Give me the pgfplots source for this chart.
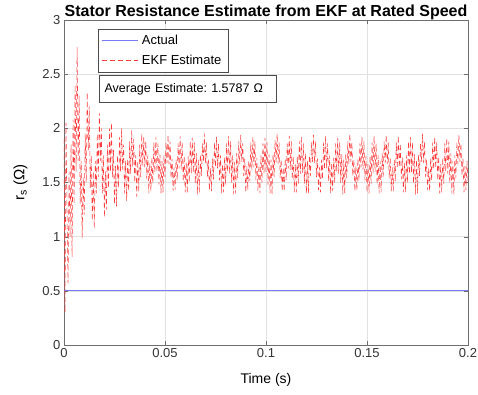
\documentclass[border=0pt]{standalone}
\usepackage{pgfplots}
\pgfplotsset{compat=1.18}
\usepackage{fontspec}
\setmainfont{Liberation Sans}
\definecolor{gridgray}{RGB}{225,225,225}
\definecolor{axgray}{RGB}{110,110,110}
\definecolor{actblue}{RGB}{120,120,250}
\definecolor{ekfred}{RGB}{255,60,60}
\pgfplotsset{ekf/.style={color=ekfred, line width=0.55pt, dash pattern=on 5pt off 3pt}}
\begin{document}
\frenchspacing
\begin{tikzpicture}
\useasboundingbox (-64pt,-50pt) rectangle (414pt,345pt);
\begin{axis}[
  scale only axis, width=404pt, height=325pt,
  xmin=0, xmax=0.2, ymin=0, ymax=3,
  xtick={0,0.05,0.1,0.15,0.2}, ytick={0,0.5,1,1.5,2,2.5,3},
  scaled x ticks=false,
  xticklabel style={/pgf/number format/fixed, /pgf/number format/precision=2},
  /pgf/number format/assume math mode=true,
  tick label style={font=\fontsize{13}{15}\selectfont, color=black!80},
  xlabel style={font=\fontsize{14}{16}\selectfont, yshift=-9pt},
  ylabel style={font=\fontsize{15}{17}\selectfont, yshift=8pt},
  title style={font=\bfseries\fontsize{16}{18}\selectfont, at={(0.5,1)}, anchor=base, yshift=-3pt},
  title={Stator Resistance Estimate from EKF at Rated Speed},
  xlabel={Time (s)}, ylabel={r\textsubscript{s} (Ω)},
  grid=major, major grid style={gridgray, line width=0.5pt},
  axis line style={axgray}, tick style={axgray},
  tick align=inside, major tick length=4pt,
  legend style={at={(axis description cs:0.084,0.973)}, anchor=north west,
    font=\fontsize{13}{15}\selectfont, draw=black!70, fill=white,
    inner xsep=3pt, inner ysep=4pt, row sep=5pt,
    nodes={inner xsep=4pt}},
  legend cell align=left,
  legend image code/.code={\draw[#1] (0pt,0pt) -- (36pt,0pt);},
]
\addplot[color=actblue, line width=0.8pt] coordinates {(0,0.5) (0.2,0.5)};
\addlegendentry{Actual}
\addplot[ekf] table {
0.0000 1.90
0.0005 0.30
0.0010 2.05
0.0015 1.20
0.0020 0.57
0.0025 1.60
0.0030 1.00
0.0035 1.85
0.0040 0.81
0.0045 2.08
0.0050 1.30
0.0055 2.40
0.0060 1.60
0.0065 2.75
0.0070 1.70
0.0075 2.30
0.0080 1.30
0.0085 1.70
0.0090 0.99
0.0095 1.55
0.0100 1.20
0.0105 1.95
0.0110 1.50
0.0115 2.33
0.0120 1.80
0.0125 2.20
0.0130 1.45
0.0135 1.75
0.0140 1.15
0.0145 1.60
0.0150 1.08
0.0155 1.70
0.0160 1.40
0.0165 1.95
0.0170 1.55
0.0175 2.14
0.0180 1.70
0.0185 2.00
0.0190 1.40
0.0195 1.75
0.0200 1.18
0.0205 1.60
0.0210 1.25
0.0215 1.85
0.0220 1.45
0.0225 2.00
0.0230 1.60
0.0235 2.05
0.0240 1.55
0.0245 1.80
0.0250 1.30
0.0255 1.65
0.0260 1.28
0.0265 1.75
0.0270 1.45
0.0275 1.92
0.0280 1.60
0.0285 2.00
0.0290 1.62
0.0295 1.85
0.0300 1.40
0.0305 1.70
0.0310 1.33
0.0315 1.72
0.0320 1.42
0.0325 1.88
0.0330 1.58
0.0335 1.98
0.0340 1.65
0.0345 1.90
0.0350 1.50
0.0355 1.75
0.0360 1.37
0.0365 1.70
0.0370 1.42
0.0375 1.85
0.0380 1.55
0.0385 1.95
0.0390 1.65
0.0395 1.92
0.0400 1.64
0.0405 1.88
0.0410 1.53
0.0415 1.75
0.0420 1.40
0.0425 1.68
0.0430 1.42
0.0435 1.73
0.0440 1.49
0.0445 1.87
0.0450 1.59
0.0455 1.92
0.0460 1.60
0.0465 1.86
0.0470 1.48
0.0475 1.76
0.0480 1.40
0.0485 1.70
0.0490 1.41
0.0495 1.75
0.0500 1.55
0.0505 1.87
0.0510 1.68
0.0515 1.94
0.0520 1.67
0.0525 1.88
0.0530 1.54
0.0535 1.72
0.0540 1.42
0.0545 1.64
0.0550 1.43
0.0555 1.71
0.0560 1.52
0.0565 1.86
0.0570 1.63
0.0575 1.93
0.0580 1.62
0.0585 1.87
0.0590 1.51
0.0595 1.74
0.0600 1.41
0.0605 1.68
0.0610 1.40
0.0615 1.74
0.0620 1.50
0.0625 1.88
0.0630 1.58
0.0635 1.91
0.0640 1.59
0.0645 1.87
0.0650 1.49
0.0655 1.77
0.0660 1.39
0.0665 1.71
0.0670 1.41
0.0675 1.76
0.0680 1.56
0.0685 1.86
0.0690 1.69
0.0695 1.95
0.0700 1.68
0.0705 1.87
0.0710 1.55
0.0715 1.71
0.0720 1.43
0.0725 1.63
0.0730 1.42
0.0735 1.72
0.0740 1.53
0.0745 1.87
0.0750 1.64
0.0755 1.92
0.0760 1.63
0.0765 1.86
0.0770 1.52
0.0775 1.75
0.0780 1.40
0.0785 1.67
0.0790 1.41
0.0795 1.73
0.0800 1.48
0.0805 1.86
0.0810 1.60
0.0815 1.93
0.0820 1.58
0.0825 1.88
0.0830 1.50
0.0835 1.75
0.0840 1.39
0.0845 1.69
0.0850 1.40
0.0855 1.77
0.0860 1.54
0.0865 1.88
0.0870 1.67
0.0875 1.94
0.0880 1.69
0.0885 1.86
0.0890 1.56
0.0895 1.72
0.0900 1.41
0.0905 1.65
0.0910 1.43
0.0915 1.70
0.0920 1.51
0.0925 1.87
0.0930 1.62
0.0935 1.92
0.0940 1.64
0.0945 1.88
0.0950 1.52
0.0955 1.73
0.0960 1.42
0.0965 1.66
0.0970 1.40
0.0975 1.75
0.0980 1.50
0.0985 1.86
0.0990 1.59
0.0995 1.91
0.1000 1.60
0.1005 1.87
0.1010 1.48
0.1015 1.76
0.1020 1.40
0.1025 1.71
0.1030 1.39
0.1035 1.76
0.1040 1.55
0.1045 1.89
0.1050 1.68
0.1055 1.95
0.1060 1.67
0.1065 1.87
0.1070 1.54
0.1075 1.71
0.1080 1.42
0.1085 1.64
0.1090 1.42
0.1095 1.72
0.1100 1.52
0.1105 1.86
0.1110 1.63
0.1115 1.93
0.1120 1.62
0.1125 1.88
0.1130 1.53
0.1135 1.74
0.1140 1.41
0.1145 1.67
0.1150 1.41
0.1155 1.74
0.1160 1.49
0.1165 1.88
0.1170 1.58
0.1175 1.92
0.1180 1.59
0.1185 1.86
0.1190 1.49
0.1195 1.77
0.1200 1.40
0.1205 1.70
0.1210 1.40
0.1215 1.75
0.1220 1.56
0.1225 1.87
0.1230 1.69
0.1235 1.94
0.1240 1.68
0.1245 1.88
0.1250 1.55
0.1255 1.72
0.1260 1.43
0.1265 1.64
0.1270 1.41
0.1275 1.71
0.1280 1.53
0.1285 1.87
0.1290 1.62
0.1295 1.93
0.1300 1.63
0.1305 1.86
0.1310 1.51
0.1315 1.75
0.1320 1.40
0.1325 1.68
0.1330 1.42
0.1335 1.73
0.1340 1.50
0.1345 1.86
0.1350 1.60
0.1355 1.91
0.1360 1.58
0.1365 1.87
0.1370 1.50
0.1375 1.76
0.1380 1.39
0.1385 1.71
0.1390 1.40
0.1395 1.76
0.1400 1.54
0.1405 1.88
0.1410 1.67
0.1415 1.95
0.1420 1.69
0.1425 1.87
0.1430 1.56
0.1435 1.71
0.1440 1.42
0.1445 1.65
0.1450 1.43
0.1455 1.72
0.1460 1.52
0.1465 1.86
0.1470 1.64
0.1475 1.92
0.1480 1.62
0.1485 1.88
0.1490 1.52
0.1495 1.74
0.1500 1.41
0.1505 1.67
0.1510 1.40
0.1515 1.74
0.1520 1.49
0.1525 1.87
0.1530 1.59
0.1535 1.93
0.1540 1.60
0.1545 1.86
0.1550 1.48
0.1555 1.75
0.1560 1.40
0.1565 1.70
0.1570 1.41
0.1575 1.77
0.1580 1.55
0.1585 1.88
0.1590 1.68
0.1595 1.94
0.1600 1.67
0.1605 1.87
0.1610 1.54
0.1615 1.72
0.1620 1.42
0.1625 1.64
0.1630 1.42
0.1635 1.71
0.1640 1.51
0.1645 1.87
0.1650 1.63
0.1655 1.93
0.1660 1.64
0.1665 1.86
0.1670 1.53
0.1675 1.73
0.1680 1.41
0.1685 1.68
0.1690 1.41
0.1695 1.75
0.1700 1.50
0.1705 1.88
0.1710 1.58
0.1715 1.92
0.1720 1.59
0.1725 1.87
0.1730 1.49
0.1735 1.76
0.1740 1.39
0.1745 1.71
0.1750 1.40
0.1755 1.76
0.1760 1.56
0.1765 1.86
0.1770 1.69
0.1775 1.95
0.1780 1.68
0.1785 1.88
0.1790 1.55
0.1795 1.71
0.1800 1.43
0.1805 1.63
0.1810 1.42
0.1815 1.72
0.1820 1.52
0.1825 1.87
0.1830 1.62
0.1835 1.92
0.1840 1.63
0.1845 1.87
0.1850 1.52
0.1855 1.74
0.1860 1.40
0.1865 1.67
0.1870 1.41
0.1875 1.73
0.1880 1.49
0.1885 1.86
0.1890 1.60
0.1895 1.91
0.1900 1.58
0.1905 1.88
0.1910 1.50
0.1915 1.77
0.1920 1.40
0.1925 1.70
0.1930 1.39
0.1935 1.75
0.1940 1.54
0.1945 1.87
0.1950 1.67
0.1955 1.94
0.1960 1.69
0.1965 1.86
0.1970 1.56
0.1975 1.72
0.1980 1.41
0.1985 1.65
0.1990 1.43
0.1995 1.70
0.2000 1.52
};
\addlegendentry{EKF Estimate}
\node[draw=black!70, fill=white, anchor=north west, inner xsep=5pt,
  minimum width=177pt, minimum height=27pt, align=left, text width=167pt,
  font=\fontsize{12.5}{14}\selectfont] at (axis description cs:0.0875,0.83)
  {Average Estimate: 1.5787 Ω};
\end{axis}
\end{tikzpicture}
\end{document}
